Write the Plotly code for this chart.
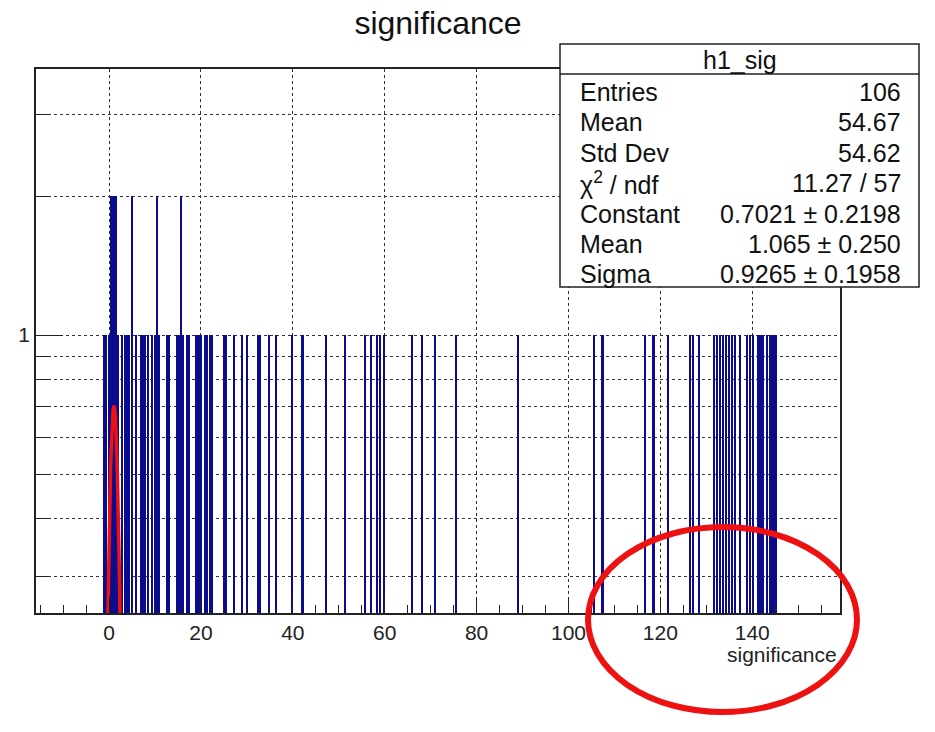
import numpy as np
import plotly.graph_objects as go

# Filled bins of h1_sig: bin centre and bin content
bin_centres = [
    -1.1, -0.6, -0.1, 0.4, 0.9, 1.4, 1.9, 2.9, 3.4, 3.8, 4.3, 4.9, 5.9,
    6.9, 7.4, 7.9, 8.5, 9.3, 10.0, 10.45, 10.9, 12.6, 13.1, 14.8, 15.3,
    15.7, 16.1, 16.9, 17.5, 18.9, 19.4, 19.9, 20.8, 21.3, 21.9, 22.5,
    25.0, 25.5, 27.2, 29.0, 30.0, 32.4, 32.9, 34.8, 36.4, 39.8, 42.1,
    47.2, 51.4, 55.7, 57.0, 58.3, 59.0, 59.9, 65.9, 68.1, 70.9, 75.5,
    89.1, 105.5, 107.4, 116.7, 118.5, 121.7, 126.5, 127.2, 128.4, 131.6,
    132.3, 133.0, 133.6, 134.2, 135.0, 135.6, 136.2, 137.3, 138.8, 139.6,
    140.1, 141.2, 141.8, 142.4, 143.3, 143.8, 144.3, 144.8, 145.2,
]
bin_counts = [
    1, 1, 1, 2, 2, 2, 1, 1, 1, 1, 1, 2, 1,
    1, 1, 1, 1, 1, 1, 2, 1, 1, 1, 1, 1,
    2, 1, 1, 1, 1, 1, 1, 1, 1, 1, 1,
    1, 1, 1, 1, 1, 1, 1, 1, 1, 1, 1,
    1, 1, 1, 1, 1, 1, 1, 1, 1, 1, 1,
    1, 1, 1, 1, 1, 1, 1, 1, 1, 1,
    1, 1, 1, 1, 1, 1, 1, 1, 1, 1,
    1, 1, 1, 1, 1, 1, 1, 1, 1,
]

# Gaussian fit result
fit_constant = 0.7021
fit_mean = 1.065
fit_sigma = 0.9265

# Statistics box contents
stats_title = "h1_sig"
stats_labels = ["Entries", "Mean", "Std Dev", "χ<sup>2</sup> / ndf",
                "Constant", "Mean", "Sigma"]
stats_values = ["106", "54.67", "54.62", "11.27 / 57",
                "0.7021 ± 0.2198", "1.065 ± 0.250", "0.9265 ± 0.1958"]

x_major = [0, 20, 40, 60, 80, 100, 120, 140]
y_major = [1]
y_minor = [0.3, 0.4, 0.5, 0.6, 0.7, 0.8, 0.9, 2, 3]

FONT = "Liberation Sans, Arial, Helvetica, sans-serif"
W, H = 935, 732
L, R, T, B = 36, 840, 69, 613  # frame in pixels


def px(x):
    return (x - L) / (R - L)


def py(y):
    return (B - y) / (B - T)


fig = go.Figure()

fig.add_trace(go.Bar(
    x=bin_centres, y=bin_counts, width=0.45,
    marker=dict(color="#0b0b8e", line=dict(width=0)),
    showlegend=False,
))

xf = np.linspace(-1.5, 3.5, 200)
yf = fit_constant * np.exp(-0.5 * ((xf - fit_mean) / fit_sigma) ** 2)
fig.add_trace(go.Scatter(
    x=xf, y=yf, mode="lines",
    line=dict(color="#ee1111", width=3.5), showlegend=False,
))

grid = dict(showgrid=True, gridcolor="#333333", griddash="dot", gridwidth=1.2)

fig.update_xaxes(
    range=[-15.9, 159.1],
    tickmode="array", tickvals=x_major,
    ticktext=[str(v) for v in x_major],
    ticks="inside", ticklen=16, tickwidth=1.2, tickcolor="#222",
    showline=True, linecolor="#222", linewidth=1.5, mirror=True,
    tickfont=dict(family=FONT, size=21, color="#222"),
    minor=dict(ticks="inside", ticklen=8, tickwidth=1.2, tickcolor="#222",
               dtick=5, tick0=0, showgrid=False),
    zeroline=False, **grid,
)
fig.update_yaxes(
    type="log", range=[np.log10(0.25), np.log10(3.77)],
    tickmode="array", tickvals=y_major, ticktext=["1"],
    ticks="inside", ticklen=27, tickwidth=1.2, tickcolor="#222",
    showline=True, linecolor="#222", linewidth=1.5, mirror=True,
    tickfont=dict(family=FONT, size=21, color="#222"),
    minor=dict(ticks="inside", ticklen=13, tickwidth=1.2, tickcolor="#222",
               tickmode="array", tickvals=y_minor,
               showgrid=True, gridcolor="#333333", griddash="dot",
               gridwidth=1.2),
    zeroline=False, **grid,
)

shapes = [
    # statistics box
    dict(type="rect", xref="paper", yref="paper",
         x0=px(560), x1=px(919), y0=py(287), y1=py(44),
         fillcolor="white", line=dict(color="#222", width=1.5),
         layer="above"),
    dict(type="line", xref="paper", yref="paper",
         x0=px(560), x1=px(919), y0=py(74), y1=py(74),
         line=dict(color="#222", width=1.5), layer="above"),
    # red ring around the high-significance tail
    dict(type="circle", xref="paper", yref="paper",
         x0=px(588), x1=px(857), y0=py(712), y1=py(527),
         line=dict(color="#ee1111", width=6), layer="above"),
]

annotations = [
    dict(text=stats_title, xref="paper", yref="paper",
         x=px(740), y=py(60), xanchor="center", yanchor="middle",
         showarrow=False, font=dict(family=FONT, size=25, color="#111")),
    dict(text="significance", xref="paper", yref="paper",
         x=px(839), y=py(654), xanchor="right", yanchor="middle",
         showarrow=False, font=dict(family=FONT, size=21, color="#222")),
]
row_y = [92, 122, 153, 183, 214, 244, 274]
for lab, val, yy in zip(stats_labels, stats_values, row_y):
    annotations.append(dict(
        text=lab, xref="paper", yref="paper", x=px(578), y=py(yy),
        xanchor="left", yanchor="middle", showarrow=False,
        font=dict(family=FONT, size=25, color="#111")))
    annotations.append(dict(
        text=val, xref="paper", yref="paper", x=px(903), y=py(yy),
        xanchor="right", yanchor="middle", showarrow=False,
        font=dict(family=FONT, size=25, color="#111")))

fig.update_layout(
    width=W, height=H,
    margin=dict(l=L, r=W - R, t=T, b=H - B, pad=0),
    paper_bgcolor="white", plot_bgcolor="white",
    title=dict(text="significance", x=438 / W, xanchor="center",
               y=1 - 23 / H, yanchor="middle",
               font=dict(family=FONT, size=32, color="#111")),
    shapes=shapes, annotations=annotations,
    bargap=0, showlegend=False,
)

fig.write_html("out.html")
